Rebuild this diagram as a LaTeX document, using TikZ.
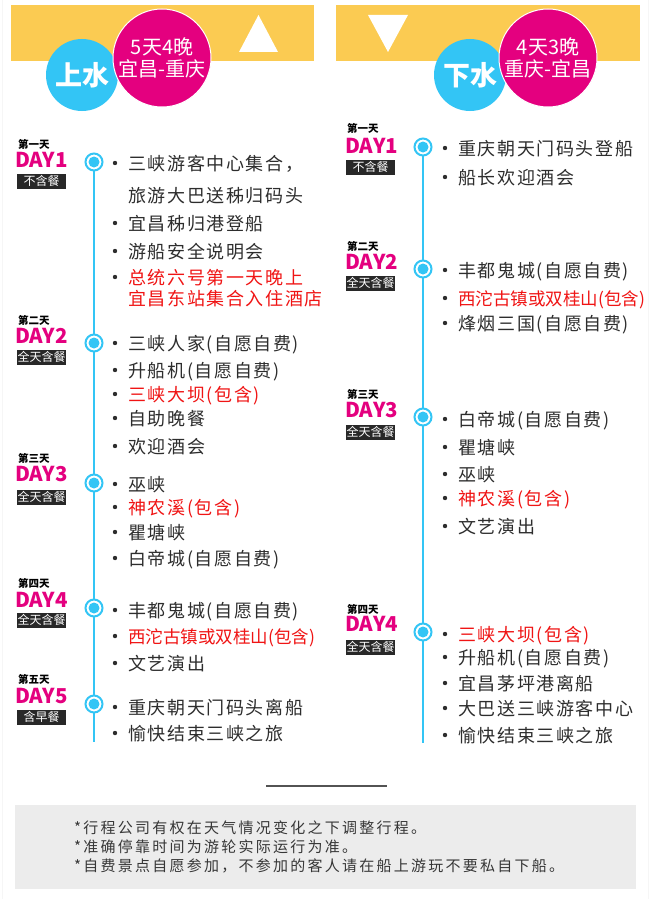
\documentclass[tikz,border=0pt]{standalone}
\usepackage{fontspec}
\setmainfont{Noto Sans CJK SC}
\newfontfamily\cjk{Noto Sans CJK SC}
\newfontfamily\cjkls[LetterSpace=9]{Noto Sans CJK SC}
\newfontfamily\cjkfoot[LetterSpace=15]{Noto Sans CJK SC}
\definecolor{hdry}{RGB}{251,203,82}
\definecolor{cblue}{RGB}{51,197,245}
\definecolor{cpink}{RGB}{228,0,127}
\definecolor{txt}{RGB}{45,45,45}
\definecolor{txtred}{RGB}{240,20,20}
\definecolor{tagbg}{RGB}{40,40,40}
\definecolor{boxgray}{RGB}{236,236,236}
\definecolor{foottxt}{RGB}{55,55,55}
\tikzset{
  body/.style={font=\cjkls\fontsize{18}{20}\selectfont, text=txt, inner sep=0pt, text height=14.5pt, text depth=0.5pt, anchor=west},
  bodyred/.style={body, text=txtred},
  bodytight/.style={body, text=txtred, font=\cjk\fontsize{17.5}{20}\selectfont},
  daysmall/.style={font=\cjk\bfseries\fontsize{10.5}{12}\selectfont, text=black, inner sep=0pt, anchor=west, text height=8pt, text depth=0pt},
  daylab/.style={font=\cjk\bfseries\fontsize{20.5}{22}\selectfont, text=cpink, inner sep=0pt, anchor=west, text height=14.8pt, text depth=0pt},
  meal/.style={fill=tagbg, text=white, font=\cjk\fontsize{12}{14}\selectfont, minimum width=49pt, minimum height=15pt, inner sep=0pt},
  tdot/.style={circle, draw=cblue, line width=2pt, fill=white, minimum size=17pt, inner sep=0pt,
    path picture={\fill[cblue] (path picture bounding box.center) circle (5.5pt);}},
  tline/.style={draw=cblue, line width=2.6pt},
  bigblue/.style={circle, fill=cblue, minimum size=72pt, inner sep=0pt, text=white, font=\cjk\bfseries\fontsize{27}{30}\selectfont},
  bigpink/.style={circle, fill=cpink, draw=white, line width=1pt, minimum size=98pt, inner sep=0pt, text=white, align=center, font=\cjk\fontsize{20}{22}\selectfont},
  foot/.style={font=\cjkfoot\fontsize{15}{18}\selectfont, text=foottxt, inner sep=0pt, anchor=west, text height=11.4pt, text depth=0pt}
}
\newcommand\bitem[5]{% name, bullet x, y, style, text
  \fill[txt] (#2,#3) circle (2.2);
  \node[#4] (#1) at ({#2+13},#3) {#5};}
\begin{document}
\begin{tikzpicture}[x=1pt,y=-1pt]
\useasboundingbox (0,0) rectangle (650,899);
\fill[white] (0,0) rectangle (650,899);
\draw[gray!7, line width=1pt] (2,0) -- (2,899) (648,0) -- (648,899);
% ---------- headers ----------
\fill[hdry] (11,5) rectangle (314,61);
\fill[hdry] (336,5) rectangle (640,61);
\fill[white] (239,52) -- (278,52) -- (258.5,15) -- cycle;
\fill[white] (368,15) -- (408,15) -- (388,52) -- cycle;
\node[bigblue] (upc) at (82,75) {上水};
\node[bigpink] (upinfo) at (162,58) {5天4晚\\宜昌-重庆};
\node[bigblue] (downc) at (470,75) {下水};
\node[bigpink] (downinfo) at (548,58) {4天3晚\\重庆-宜昌};
% ---------- left timeline ----------
\coordinate (Ltop) at (94,162);
\coordinate (Lend) at (94,742);
\draw[tline] (Ltop) -- (Lend);
\node[tdot] (L1) at (94,162) {};
\node[tdot] (L2) at (94,343) {};
\node[tdot] (L3) at (94,483) {};
\node[tdot] (L4) at (94,608) {};
\node[tdot] (L5) at (94,704) {};
% left day labels
\node[daysmall] (L1s) at (18,144) {第一天};
\node[daylab] (L1d) at (15,160) {DAY1};
\node[meal] (L1m) at (41.5,181) {不含餐};
\node[daysmall] (L2s) at (18,320) {第二天};
\node[daylab] (L2d) at (15,336) {DAY2};
\node[meal] (L2m) at (41.5,357) {全天含餐};
\node[daysmall] (L3s) at (18,458) {第三天};
\node[daylab] (L3d) at (15,474) {DAY3};
\node[meal] (L3m) at (41.5,497) {全天含餐};
\node[daysmall] (L4s) at (18,583) {第四天};
\node[daylab] (L4d) at (15,600) {DAY4};
\node[meal] (L4m) at (41.5,620) {全天含餐};
\node[daysmall] (L5s) at (18,679) {第五天};
\node[daylab] (L5d) at (15,696) {DAY5};
\node[meal] (L5m) at (41.5,717) {含早餐};
% left items
\bitem{a1}{115}{163}{body}{三峡游客中心集合，}
\node[body] (a1b) at (128,195) {旅游大巴送秭归码头};
\bitem{a2}{115}{223}{body}{宜昌秭归港登船}
\bitem{a3}{115}{251}{body}{游船安全说明会}
\bitem{a4}{115}{277}{bodyred}{总统六号第一天晚上}
\node[bodyred] (a4b) at (128,298) {宜昌东站集合入住酒店};
\bitem{b1}{115}{343}{body}{三峡人家(自愿自费)}
\bitem{b2}{115}{370}{body}{升船机(自愿自费)}
\bitem{b3}{115}{394}{bodyred}{三峡大坝(包含)}
\bitem{b4}{115}{418}{body}{自助晚餐}
\bitem{b5}{115}{446}{body}{欢迎酒会}
\bitem{c1}{115}{484}{body}{巫峡}
\bitem{c2}{115}{507}{bodyred}{神农溪(包含)}
\bitem{c3}{115}{532}{body}{瞿塘峡}
\bitem{c4}{115}{558}{body}{白帝城(自愿自费)}
\bitem{d1}{115}{610}{body}{丰都鬼城(自愿自费)}
\bitem{d2}{115}{636}{bodytight}{西沱古镇或双桂山(包含)}
\bitem{d3}{115}{663}{body}{文艺演出}
\bitem{e1}{115}{707}{body}{重庆朝天门码头离船}
\bitem{e2}{115}{733}{body}{愉快结束三峡之旅}
% ---------- right timeline ----------
\coordinate (Rtop) at (423,147);
\coordinate (Rend) at (423,743);
\draw[tline] (Rtop) -- (Rend);
\node[tdot] (R1) at (423,147) {};
\node[tdot] (R2) at (423,269) {};
\node[tdot] (R3) at (423,417) {};
\node[tdot] (R4) at (423,632) {};
\node[daysmall] (R1s) at (347,128) {第一天};
\node[daylab] (R1d) at (345,146) {DAY1};
\node[meal] (R1m) at (370.5,167) {不含餐};
\node[daysmall] (R2s) at (347,246) {第二天};
\node[daylab] (R2d) at (345,262) {DAY2};
\node[meal] (R2m) at (370.5,283) {全天含餐};
\node[daysmall] (R3s) at (347,394) {第三天};
\node[daylab] (R3d) at (345,410) {DAY3};
\node[meal] (R3m) at (370.5,432) {全天含餐};
\node[daysmall] (R4s) at (347,609) {第四天};
\node[daylab] (R4d) at (345,624) {DAY4};
\node[meal] (R4m) at (370.5,647) {全天含餐};
\bitem{f1}{445}{148}{body}{重庆朝天门码头登船}
\bitem{f2}{445}{177}{body}{船长欢迎酒会}
\bitem{g1}{445}{270}{body}{丰都鬼城(自愿自费)}
\bitem{g2}{445}{298}{bodytight}{西沱古镇或双桂山(包含)}
\bitem{g3}{445}{323}{body}{烽烟三国(自愿自费)}
\bitem{h1}{445}{419}{body}{白帝城(自愿自费)}
\bitem{h2}{445}{447}{body}{瞿塘峡}
\bitem{h3}{445}{474}{body}{巫峡}
\bitem{h4}{445}{498}{bodyred}{神农溪(包含)}
\bitem{h5}{445}{526}{body}{文艺演出}
\bitem{i1}{445}{634}{bodyred}{三峡大坝(包含)}
\bitem{i2}{445}{657}{body}{升船机(自愿自费)}
\bitem{i3}{445}{683}{body}{宜昌茅坪港离船}
\bitem{i4}{445}{708}{body}{大巴送三峡游客中心}
\bitem{i5}{445}{735}{body}{愉快结束三峡之旅}
% ---------- footer ----------
\draw[gray!65!black, line width=1.5pt] (266,786) -- (387,786);
\fill[boxgray] (15,805) rectangle (636,889);
\node[foot] (n1) at (74,828) {*行程公司有权在天气情况变化之下调整行程。};
\node[foot] (n2) at (74,847) {*准确停靠时间为游轮实际运行为准。};
\node[foot] (n3) at (74,866) {*自费景点自愿参加，不参加的客人请在船上游玩不要私自下船。};
\end{tikzpicture}
\end{document}
